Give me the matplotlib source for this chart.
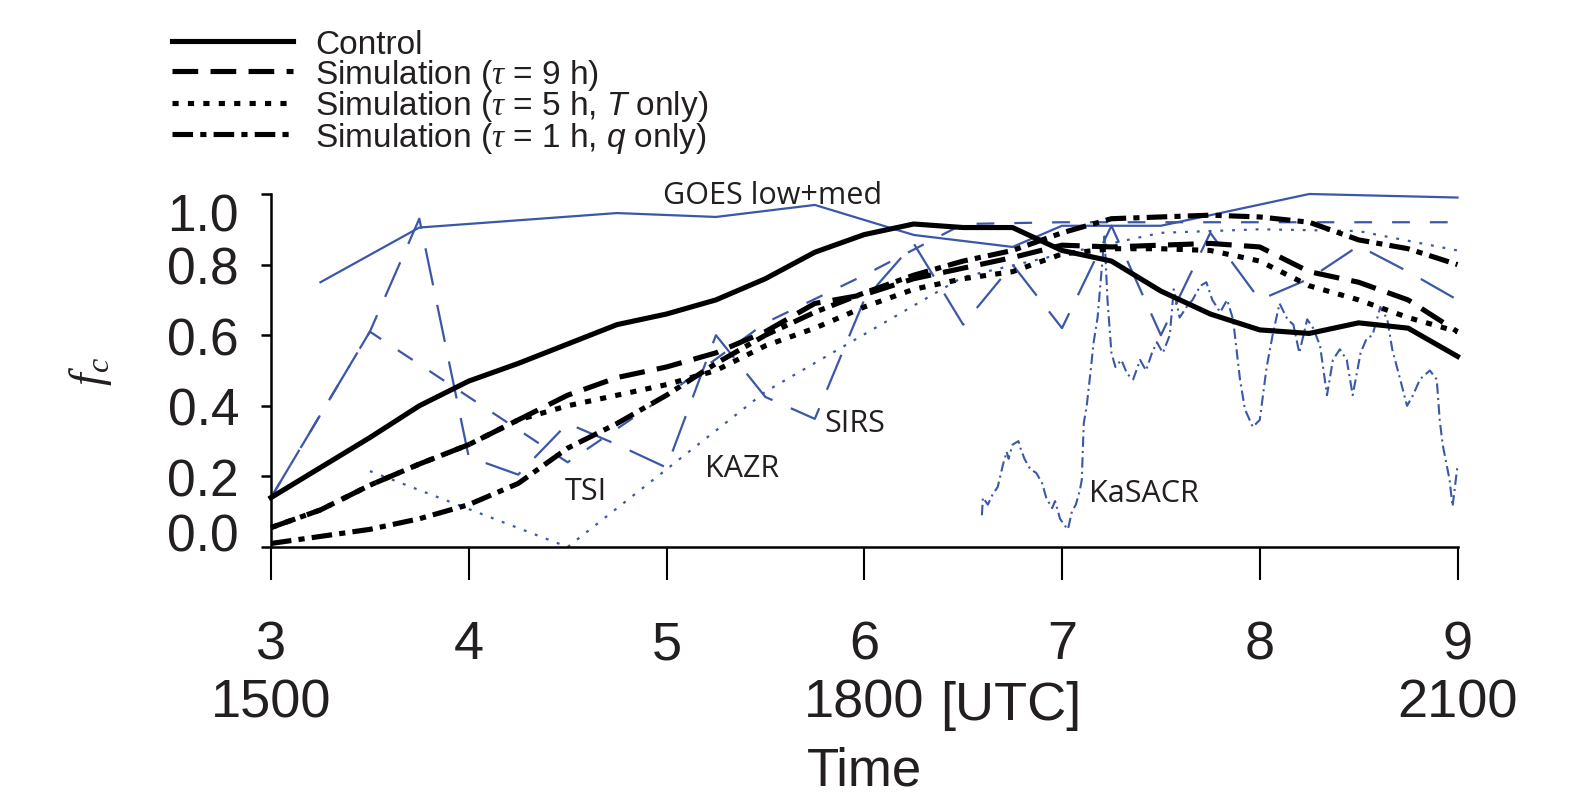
import matplotlib
matplotlib.use('Agg')
import matplotlib.pyplot as plt
from matplotlib.transforms import ScaledTranslation

plt.rcParams['font.family'] = ['Liberation Sans', 'DejaVu Sans']
plt.rcParams['mathtext.fontset'] = 'custom'
plt.rcParams['mathtext.rm'] = 'Liberation Sans'
plt.rcParams['mathtext.it'] = 'Liberation Sans:italic'
plt.rcParams['mathtext.bf'] = 'Liberation Serif:italic'

TXT = '#231f20'
BLUE = '#3b57a7'

# ---------------- data ----------------
t_model = [3.0, 3.25, 3.5, 3.75, 4.0, 4.25, 4.5, 4.75, 5.0, 5.25, 5.5, 5.75,
           6.0, 6.25, 6.5, 6.75, 7.0, 7.25, 7.5, 7.75, 8.0, 8.25, 8.5, 8.75, 9.0]
control = [0.14, 0.225, 0.31, 0.40, 0.47, 0.52, 0.575, 0.63, 0.66, 0.70, 0.76, 0.835,
           0.885, 0.915, 0.905, 0.905, 0.84, 0.81, 0.725, 0.66, 0.615, 0.605, 0.635, 0.62, 0.54]
sim_tau9 = [0.055, 0.105, 0.175, 0.235, 0.29, 0.36, 0.43, 0.48, 0.51, 0.55, 0.61, 0.69,
            0.715, 0.76, 0.79, 0.82, 0.855, 0.85, 0.855, 0.86, 0.85, 0.78, 0.75, 0.70, 0.61]
sim_tau5_T = [0.055, 0.105, 0.175, 0.235, 0.29, 0.36, 0.40, 0.43, 0.46, 0.50, 0.57, 0.62,
              0.68, 0.73, 0.76, 0.78, 0.83, 0.845, 0.845, 0.84, 0.81, 0.74, 0.70, 0.65, 0.61]
sim_tau1_q = [0.01, 0.03, 0.05, 0.08, 0.12, 0.18, 0.28, 0.35, 0.43, 0.52, 0.60, 0.665,
              0.72, 0.77, 0.81, 0.84, 0.89, 0.93, 0.935, 0.94, 0.935, 0.92, 0.87, 0.845, 0.80]

t_goes = [3.25, 3.75, 4.75, 5.25, 5.75, 6.25, 6.75, 7.0, 7.5, 8.25, 9.0]
goes = [0.75, 0.905, 0.946, 0.935, 0.969, 0.884, 0.85, 0.91, 0.91, 1.0, 0.99]

t_tsi = [3.0, 3.5, 4.5, 5.0, 5.5, 6.0, 6.5, 7.0, 7.5, 8.0, 8.5, 9.0]
tsi = [0.14, 0.61, 0.24, 0.43, 0.635, 0.77, 0.915, 0.92, 0.92, 0.92, 0.92, 0.92]

t_sirs = [3.0, 3.25, 3.5, 3.75, 4.0, 4.25, 4.5, 4.75, 5.0, 5.25, 5.5, 5.75,
          6.0, 6.25, 6.5, 6.75, 7.0, 7.25, 7.5, 7.75, 8.0, 8.25, 8.5, 8.75, 9.0]
sirs = [0.14, 0.375, 0.61, 0.93, 0.255, 0.205, 0.35, 0.29, 0.225, 0.60, 0.425, 0.363,
        0.70, 0.86, 0.63, 0.80, 0.62, 0.91, 0.60, 0.89, 0.70, 0.76, 0.853, 0.78, 0.70]

t_kazr = [3.5, 4.5, 5.5, 6.5, 7.0, 7.5, 8.0, 8.5, 9.0]
kazr = [0.215, 0.0, 0.44, 0.765, 0.83, 0.89, 0.90, 0.895, 0.84]

t_kasacr = [6.595, 6.60, 6.625, 6.65, 6.675, 6.70, 6.72, 6.73, 6.75, 6.78, 6.79, 6.81,
            6.84, 6.87, 6.90, 6.92, 6.95, 6.965, 6.99, 7.015, 7.03, 7.05, 7.07, 7.09,
            7.10, 7.11, 7.125, 7.145, 7.16, 7.18, 7.195, 7.215, 7.23, 7.25, 7.27, 7.30,
            7.33, 7.36, 7.395, 7.425, 7.455, 7.48, 7.51, 7.545, 7.565, 7.595, 7.63, 7.66,
            7.70, 7.73, 7.76, 7.80, 7.835, 7.865, 7.90, 7.925, 7.965, 8.00, 8.035, 8.065,
            8.10, 8.14, 8.17, 8.20, 8.24, 8.27, 8.305, 8.34, 8.37, 8.405, 8.44, 8.47,
            8.51, 8.54, 8.57, 8.61, 8.645, 8.67, 8.71, 8.745, 8.775, 8.81, 8.86, 8.895,
            8.91, 8.925, 8.96, 8.975, 9.0]
kasacr = [0.09, 0.14, 0.12, 0.15, 0.17, 0.23, 0.27, 0.25, 0.29, 0.30, 0.28, 0.25,
          0.22, 0.21, 0.18, 0.14, 0.11, 0.13, 0.08, 0.06, 0.05, 0.10, 0.12, 0.16,
          0.19, 0.35, 0.40, 0.50, 0.58, 0.65, 0.75, 0.88, 0.70, 0.55, 0.51, 0.53,
          0.49, 0.475, 0.53, 0.50, 0.55, 0.58, 0.55, 0.60, 0.73, 0.65, 0.68, 0.70,
          0.74, 0.75, 0.70, 0.665, 0.70, 0.645, 0.475, 0.39, 0.34, 0.36, 0.51, 0.60,
          0.69, 0.645, 0.63, 0.55, 0.645, 0.62, 0.57, 0.43, 0.53, 0.56, 0.53, 0.43,
          0.55, 0.59, 0.60, 0.68, 0.645, 0.56, 0.475, 0.40, 0.43, 0.475, 0.50, 0.475,
          0.36, 0.29, 0.19, 0.115, 0.23]

x_ticks = [3, 4, 5, 6, 7, 8, 9]
x_ticklabels = ['3\n1500', '4', '5', '6\n1800', '7', '8', '9\n2100']
y_ticks = [0.0, 0.2, 0.4, 0.6, 0.8, 1.0]
y_ticklabels = ['0.0', '0.2', '0.4', '0.6', '0.8', '1.0']

legend_labels = ['Control',
                 r'Simulation ($\mathbf{\tau}$ = 9 h)',
                 r'Simulation ($\mathbf{\tau}$ = 5 h, $T$ only)',
                 r'Simulation ($\mathbf{\tau}$ = 1 h, $q$ only)']

obs_labels = ['GOES low+med', 'SIRS', 'KAZR', 'TSI', 'KaSACR']
obs_label_pos = [(4.982, 0.974), (5.797, 0.329), (5.195, 0.201), (4.487, 0.136), (7.137, 0.130)]

# ---------------- figure ----------------
W, H = 1583, 804
fig = plt.figure(figsize=(W / 100, H / 100), dpi=100)
ax = fig.add_axes([271 / W, 1 - 548 / H, 1186.5 / W, 353 / H])
ax.set_xlim(3, 9)
ax.set_ylim(0, 1)

# observations (blue, thin)
blw = 1.6
ax.plot(t_goes, goes, color=BLUE, lw=blw, solid_joinstyle='miter', clip_on=False)
ax.plot(t_sirs, sirs, color=BLUE, lw=blw, linestyle=(0, (17, 9)), clip_on=False)
ax.plot(t_tsi, tsi, color=BLUE, lw=blw, linestyle=(0, (8, 9)), clip_on=False)
ax.plot(t_kazr, kazr, color=BLUE, lw=blw, linestyle=(0, (1.3, 4)), clip_on=False)
ax.plot(t_kasacr, kasacr, color=BLUE, lw=1.5, linestyle=(0, (5, 2, 1, 2)), clip_on=False)

# model runs (black, thick)
klw = 3.7
h1, = ax.plot(t_model, control, color='black', lw=klw, clip_on=False)
h2, = ax.plot(t_model, sim_tau9, color='black', lw=klw, linestyle=(0, (5, 2.4)), clip_on=False)
h3, = ax.plot(t_model, sim_tau5_T, color='black', lw=klw, linestyle=(0, (1.2, 1.8)), clip_on=False)
h4, = ax.plot(t_model, sim_tau1_q, color='black', lw=klw, linestyle=(0, (4, 1.4, 1.2, 1.4)), clip_on=False)

for lab, (lx, ly) in zip(obs_labels, obs_label_pos):
    ax.text(lx, ly, lab, fontsize=22, family=['Open Sans', 'DejaVu Sans'], color=TXT,
            ha='left', va='baseline')

# spines and ticks
for s in ['top', 'right']:
    ax.spines[s].set_visible(False)
for s in ['left', 'bottom']:
    ax.spines[s].set_linewidth(1.8)

ax.set_xticks(x_ticks)
ax.set_xticklabels(x_ticklabels)
ax.set_yticks(y_ticks)
ax.set_yticklabels(y_ticklabels)
ax.tick_params(axis='x', direction='out', length=24, width=1.5, pad=28, labelsize=39, labelcolor=TXT)
ax.tick_params(axis='y', direction='out', length=7, width=1.8, pad=16, labelsize=37, labelcolor=TXT)
for lab in ax.get_xticklabels():
    lab.set_linespacing(1.2)
for lab in ax.get_yticklabels():
    if lab.get_text() == '1.0':
        lab.set_transform(lab.get_transform() + ScaledTranslation(0, -17 / 100, fig.dpi_scale_trans))
    elif lab.get_text() == '0.0':
        lab.set_transform(lab.get_transform() + ScaledTranslation(0, 15 / 100, fig.dpi_scale_trans))

fig.text(940 / W, 1 - 720 / H, '[UTC]', fontsize=39, color=TXT, ha='left', va='baseline')

ax.set_xlabel('Time', fontsize=38, color=TXT)
ax.xaxis.set_label_coords(0.5, (548 - 747) / 353)
ax.set_ylabel(r'$\mathbf{f}_{\mathbf{c}}$', fontsize=33, color=TXT)
ax.yaxis.set_label_coords(-157 / 1186.5, 0.5)

fig.legend([h1, h2, h3, h4], legend_labels, loc='upper left',
           bbox_to_anchor=(172 / W, 1 - 30 / H), frameon=False, fontsize=24,
           handlelength=3.63, handletextpad=0.66, labelspacing=-0.1,
           borderpad=0, borderaxespad=0, labelcolor=TXT)

fig.savefig('out.png', dpi=100)
